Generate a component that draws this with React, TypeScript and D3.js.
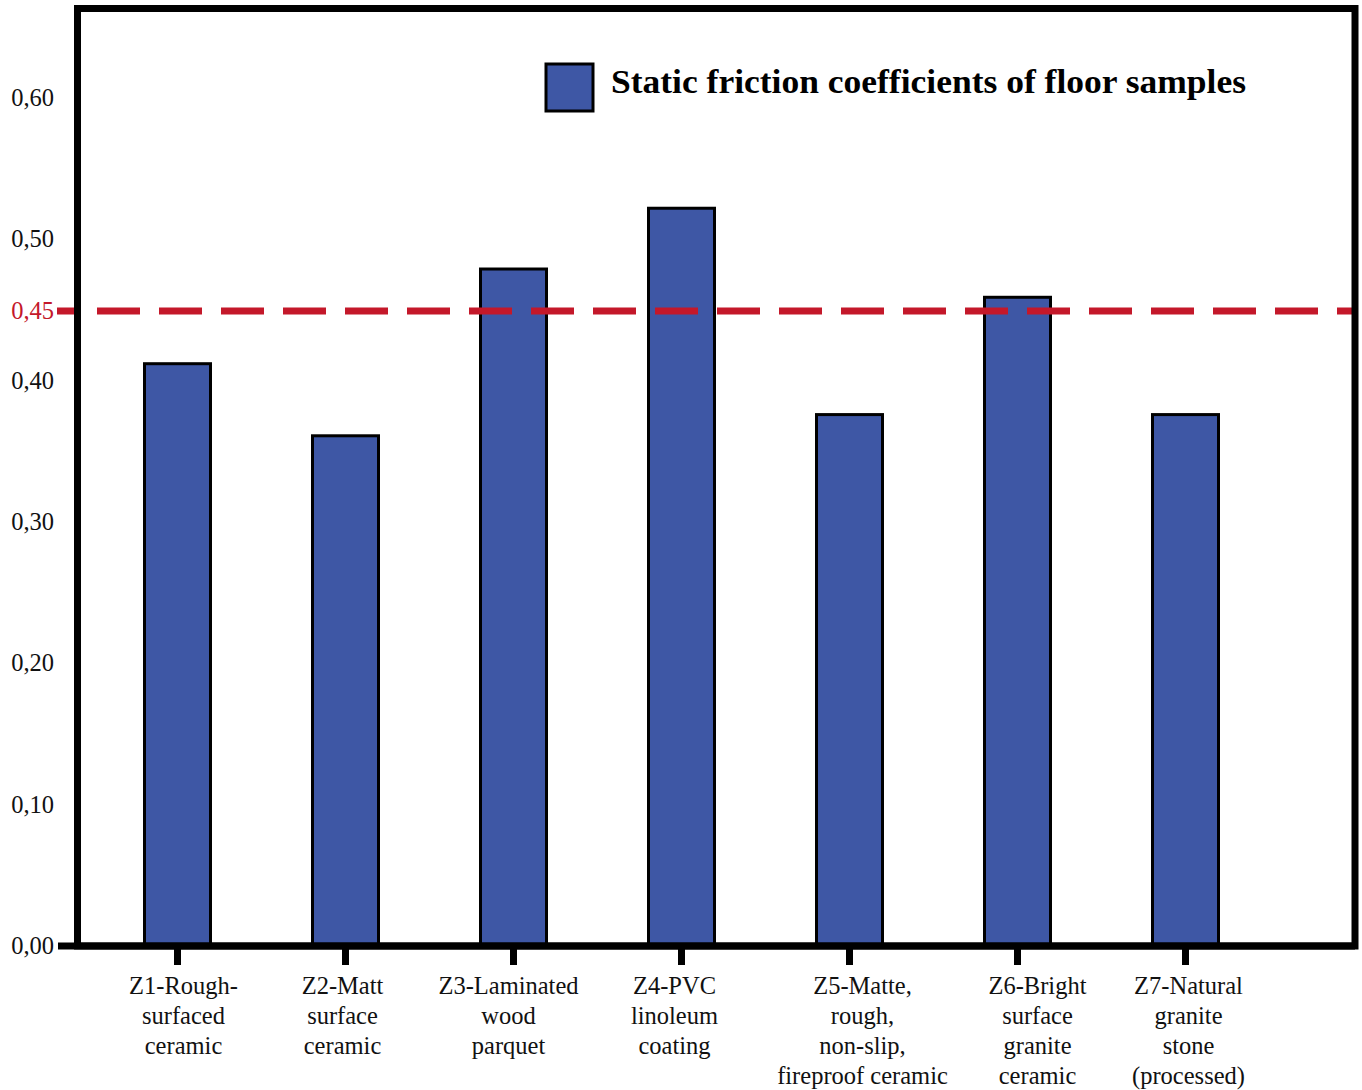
import React from "react";
import * as d3 from "d3";

// Floor samples and their measured static friction coefficients
const categories = ["Z1", "Z2", "Z3", "Z4", "Z5", "Z6", "Z7"];
const categoryLabels: string[][] = [
  ["Z1-Rough-", "surfaced", "ceramic"],
  ["Z2-Matt", "surface", "ceramic"],
  ["Z3-Laminated", "wood", "parquet"],
  ["Z4-PVC", "linoleum", "coating"],
  ["Z5-Matte,", "rough,", "non-slip,", "fireproof ceramic"],
  ["Z6-Bright", "surface", "granite", "ceramic"],
  ["Z7-Natural", "granite", "stone", "(processed)"],
];
const frictionValues = [0.412, 0.361, 0.479, 0.522, 0.376, 0.459, 0.376];
const yTicks = [0, 0.1, 0.2, 0.3, 0.4, 0.5, 0.6];
const thresholdValue = 0.45;
const legendLabel = "Static friction coefficients of floor samples";

// horizontal nudges for the multi-line category captions
const labelNudge = [6, -3, -5, -7, 13, 20, 3];

const W = 1362;
const H = 1090;
const frame = { left: 77.5, top: 8.5, right: 1355, bottom: 946 };
const serif = "'Liberation Serif', 'Times New Roman', serif";
const barFill = "#3e57a5";
const red = "#c4182a";

const fmt = (v: number) => v.toFixed(2).replace(".", ",");

export default function App() {
  const y = d3.scaleLinear().domain([0, 0.6]).range([frame.bottom, 98]);
  const x = d3.scalePoint<string>().domain(categories).range([177.5, 1185.5]);
  const barW = 66;

  return (
    <svg
      width={W}
      height={H}
      style={{ position: "absolute", left: 0, top: 0, background: "#fff" }}
    >
      {/* bars */}
      {categories.map((c, i) => (
        <rect
          key={c}
          x={(x(c) as number) - barW / 2}
          y={y(frictionValues[i])}
          width={barW}
          height={y(0) - y(frictionValues[i])}
          fill={barFill}
          stroke="#000"
          strokeWidth={3}
        />
      ))}

      {/* threshold line */}
      <line
        x1={57}
        x2={frame.right}
        y1={y(thresholdValue) + 1}
        y2={y(thresholdValue) + 1}
        stroke={red}
        strokeWidth={7}
        strokeDasharray="43 19"
        strokeDashoffset={22}
      />

      {/* plot frame */}
      <rect
        x={frame.left}
        y={frame.top}
        width={frame.right - frame.left}
        height={frame.bottom - frame.top}
        fill="none"
        stroke="#000"
        strokeWidth={7}
      />
      {/* x axis extends to the left of the frame */}
      <line x1={58} x2={frame.right} y1={frame.bottom} y2={frame.bottom} stroke="#000" strokeWidth={7} />

      {/* y tick labels */}
      {yTicks.map((t) => (
        <text
          key={t}
          x={54}
          y={y(t) + 8}
          textAnchor="end"
          fontFamily={serif}
          fontSize={24.5}
          fill="#111"
        >
          {fmt(t)}
        </text>
      ))}
      <text
        x={54}
        y={y(thresholdValue) + 9}
        textAnchor="end"
        fontFamily={serif}
        fontSize={24.5}
        fill={red}
      >
        {fmt(thresholdValue)}
      </text>

      {/* x ticks and category captions */}
      {categories.map((c, i) => {
        const cx = x(c) as number;
        return (
          <g key={c}>
            <line x1={cx} x2={cx} y1={frame.bottom} y2={965} stroke="#000" strokeWidth={7} />
            <text
              textAnchor="middle"
              fontFamily={serif}
              fontSize={24.5}
              fill="#111"
            >
              {categoryLabels[i].map((line, j) => (
                <tspan key={j} x={cx + labelNudge[i]} y={994 + j * 30}>
                  {line}
                </tspan>
              ))}
            </text>
          </g>
        );
      })}

      {/* legend */}
      <rect x={546} y={64} width={47} height={47} fill={barFill} stroke="#000" strokeWidth={3} />
      <text
        x={611}
        y={93}
        fontFamily={serif}
        fontWeight="bold"
        fontSize={34}
        textLength={635}
        lengthAdjust="spacingAndGlyphs"
        fill="#000"
      >
        {legendLabel}
      </text>
    </svg>
  );
}
